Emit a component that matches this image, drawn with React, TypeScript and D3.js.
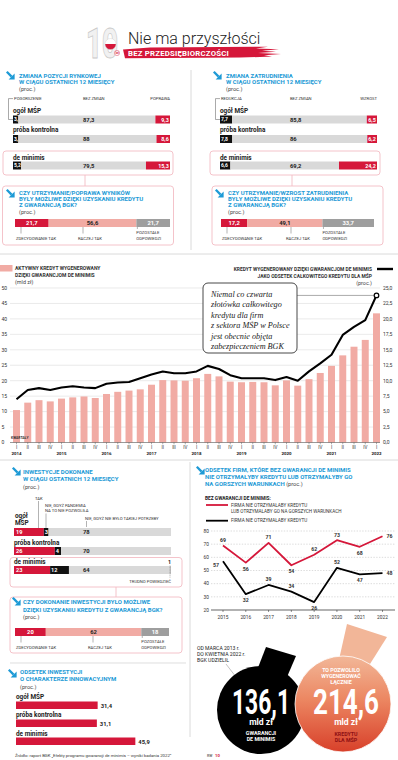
import * as d3 from "d3";

const FONT = "Roboto, 'Open Sans', 'DejaVu Sans', sans-serif";
const SERIF = "'Liberation Serif', 'DejaVu Serif', serif";
const BLUE = "#1d9ad6";
const RED = "#d5173a";
const PINK = "#f1aba4";
const GRAY = "#d9d9d9";
const DGRAY = "#9e9e9e";
const BOXPINK = "#f3bcc4";
const TXT = "#222";

// --- survey rows
const rowNames = ["ogół MŚP", "próba kontrolna", "de minimis"];
const marketWorse = [3.4, 3.4, 5.2];
const marketSame = [87.3, 88, 79.5];
const marketBetter = [9.3, 8.6, 15.3];
const jobsLess = [7.7, 7.8, 6.6];
const jobsSame = [85.8, 86, 69.2];
const jobsMore = [6.5, 6.2, 24.2];
const resultsAnswers = [21.7, 56.6, 21.7];
const jobsAnswers = [17.2, 49.1, 33.7];
const investAnswers = [20, 62, 18];

// --- quarterly credit
const quarterTicks = [
  "I", "II", "III", "IV", "I", "II", "III", "IV", "I", "II", "III", "IV",
  "I", "II", "III", "IV", "I", "II", "III", "IV", "I", "II", "III", "IV",
  "I", "II", "III", "IV", "I", "II", "III", "IV", "I",
];
const yearTicks = ["2014", "2015", "2016", "2017", "2018", "2019", "2020", "2021", "2022"];
const creditBn = [
  10.5, 12.9, 13.7, 13.3, 14.2, 14.6, 14.9, 14.4, 15.7, 16.4, 16.8, 17.2,
  18.7, 20.2, 20.1, 20.0, 20.8, 22.2, 21.4, 19.7, 19.5, 19.6, 19.5, 18.5,
  20.1, 18.4, 20.5, 22.5, 24.8, 28.2, 31.0, 33.2, 41.8,
];
const creditShare = [
  7.0, 8.5, 8.8, 8.5, 8.9, 9.1, 8.9, 8.8, 9.5, 9.7, 9.8, 10.4,
  11.0, 11.5, 11.2, 11.2, 11.5, 12.4, 11.9, 10.9, 10.4, 10.4, 10.4, 10.1,
  10.6, 10.0, 11.5, 12.8, 14.2, 17.4, 18.7, 19.8, 23.8,
];

// --- investments
const investYes = [19, 26, 23];
const investPandemic = [3, 4, 12];
const investNoNeed = [78, 70, 64];
const investHard = [0, 0, 1];
const innovShare = [31.4, 31.1, 45.9];

// --- yearly share of firms
const lineYears = ["2015", "2016", "2017", "2018", "2019", "2020", "2021", "2022"];
const worseOrNone = [69, 56, 71, 54, 62, 73, 68, 76];
const noCredit = [57, 32, 39, 34, 26, 52, 47, 48];

const guaranteesBn = 136.1;
const generatedBn = 214.6;

const pl = (v: number) => String(v).replace(".", ",");
const pl1 = (v: number) => v.toFixed(1).replace(".", ",");

function Arrow({ x, y }: { x: number; y: number }) {
  return (
    <g transform={`translate(${x},${y})`}>
      <line x1={0.8} y1={0.8} x2={5.6} y2={5.6} stroke={BLUE} strokeWidth={2.3} />
      <path d="M8.6,2.6 L8.6,8.6 L2.6,8.6 Z" fill={BLUE} />
    </g>
  );
}

function Title({ x, y, lines, step = 6.7, proc = true }: { x: number; y: number; lines: string[]; step?: number; proc?: boolean }) {
  return (
    <g>
      {lines.map((l, i) => (
        <text key={i} x={x} y={y + i * step} fontSize={6} fontWeight={700} fill={BLUE}>
          {l}
        </text>
      ))}
      {proc && (
        <text x={x} y={y + lines.length * step} fontSize={5.6} fill="#444">
          (proc.)
        </text>
      )}
    </g>
  );
}

function ChangePanel({ dx, title, heads, low, same, high, id }: {
  dx: number; title: string[]; heads: string[]; low: number[]; same: number[]; high: number[]; id: string;
}) {
  const x = d3.scaleLinear().domain([0, 100]).range([13 + dx, 170 + dx]);
  const rowY = [115.5, 135, 161.5];
  const nameY = [112.5, 131.5, 159.5];
  const h = 8;
  return (
    <g>
      <Arrow x={6 + dx} y={71} />
      <Title x={19 + dx} y={77.5} lines={title} />
      <path d={`M${x(0)},98.6 H${8.5 + dx} V119.5 H${x(0)}`} fill="none" stroke="#555" strokeWidth={0.5} />
      <text x={x(0) + 1} y={100.3} fontSize={4.2} fill="#333">{heads[0]}</text>
      <text x={83 + dx} y={100.3} fontSize={4.2} fill="#333">{heads[1]}</text>
      <text x={x(100)} y={100.3} fontSize={4.2} fill="#333" textAnchor="end">{heads[2]}</text>
      <rect x={3 + dx} y={151} width={170} height={24} rx={3} fill="none" stroke={BOXPINK} strokeWidth={0.9} />
      <line x1={85 + dx} x2={85 + dx} y1={175} y2={186} stroke={BOXPINK} strokeWidth={0.9} />
      {rowNames.map((name, i) => {
        const a = low[i], b = same[i];
        return (
          <g key={name}>
            <clipPath id={`${id}-c${i}`}>
              <rect x={x(0)} y={rowY[i]} width={x(a) - x(0)} height={h} />
            </clipPath>
            <text x={x(0)} y={nameY[i]} fontSize={6.4} fontWeight={700} fill={TXT}>{name}</text>
            <rect x={x(0)} y={rowY[i]} width={x(a) - x(0)} height={h} fill="#111" />
            <rect x={x(a)} y={rowY[i]} width={x(a + b) - x(a)} height={h} fill={GRAY} />
            <rect x={x(a + b)} y={rowY[i]} width={x(100) - x(a + b)} height={h} fill={RED} />
            <text x={x(0) + 1} y={rowY[i] + 5.9} fontSize={5} fontWeight={700} fill="#fff" clipPath={`url(#${id}-c${i})`}>
              {pl(a)}
            </text>
            <text x={83 + dx} y={rowY[i] + 6} fontSize={5.8} fontWeight={700} fill={TXT}>{pl(b)}</text>
            <text x={x(100) - 1.2} y={rowY[i] + 6} fontSize={5.4} fontWeight={700} fill="#fff" textAnchor="end">
              {pl(high[i])}
            </text>
          </g>
        );
      })}
    </g>
  );
}

function AnswerPanel({ box, arrow, titleX, titleY, title, values, barY, range, midX }: {
  box: number[]; arrow: number[]; titleX: number; titleY: number; title: string[]; values: number[];
  barY: number; range: number[]; midX: number;
}) {
  const x = d3.scaleLinear().domain([0, 100]).range(range);
  const stack = d3.cumsum(values);
  const starts = [0, stack[0], stack[1]];
  const fills = [RED, PINK, DGRAY];
  const inks = ["#fff", TXT, "#fff"];
  const h = 8;
  const b = barY + h;
  return (
    <g>
      <rect x={box[0]} y={box[1]} width={box[2]} height={box[3]} rx={3} fill="none" stroke={BOXPINK} strokeWidth={0.9} />
      <Arrow x={arrow[0]} y={arrow[1]} />
      <Title x={titleX} y={titleY} lines={title} step={title.length > 2 ? 6.2 : 7.7} />
      {values.map((v, i) => (
        <g key={i}>
          <rect x={x(starts[i])} y={barY} width={x(starts[i] + v) - x(starts[i])} height={h} fill={fills[i]} />
          <text x={(x(starts[i]) + x(starts[i] + v)) / 2} y={barY + 6} fontSize={5.8} fontWeight={700} fill={inks[i]} textAnchor="middle">
            {pl(v)}
          </text>
        </g>
      ))}
      <line x1={x(0) + 6} x2={x(0) + 6} y1={b} y2={b + 6.5} stroke="#666" strokeWidth={0.5} />
      <line x1={midX + 5} x2={midX + 5} y1={b} y2={b + 6.5} stroke="#666" strokeWidth={0.5} />
      <line x1={x(starts[2]) + 1} x2={x(starts[2]) + 1} y1={b} y2={b + 2} stroke="#666" strokeWidth={0.5} />
      <text x={x(0) + 1} y={b + 12.5} fontSize={4.2} fill="#333">ZDECYDOWANIE TAK</text>
      <text x={midX} y={b + 12.5} fontSize={4.2} fill="#333">RACZEJ TAK</text>
      <text x={x(starts[2])} y={b + 6.8} fontSize={4.2} fill="#333">POZOSTAŁE</text>
      <text x={x(starts[2])} y={b + 12.5} fontSize={4.2} fill="#333">ODPOWIEDZI</text>
    </g>
  );
}

function CreditChart() {
  const xb = d3.scaleBand<number>()
    .domain(creditBn.map((_, i) => i))
    .range([10.875, 382.125])
    .paddingInner(0.38)
    .paddingOuter(0.19);
  const yL = d3.scaleLinear().domain([0, 50]).range([442.5, 288]);
  const yR = d3.scaleLinear().domain([0, 25]).range([442.5, 288]);
  const ticks = yL.ticks(10);
  const cx = (i: number) => (xb(i) ?? 0) + xb.bandwidth() / 2;
  const line = d3.line<number>().x((_, i) => cx(i)).y((d) => yR(d));
  const last = creditShare.length - 1;
  let yearIdx = -1;
  return (
    <g>
      <rect x={0} y={265} width={12.5} height={6.5} fill={PINK} />
      <text x={15} y={270} fontSize={5} fontWeight={700} fill="#333">AKTYWNY KREDYT WYGENEROWANY</text>
      <text x={15} y={276.5} fontSize={5} fontWeight={700} fill="#333">DZIĘKI GWARANCJOM DE MINIMIS</text>
      <text x={15} y={284} fontSize={5.4} fill="#444">(mld zł)</text>
      <text x={372} y={271} fontSize={4.9} fontWeight={700} fill="#333" textAnchor="end">
        KREDYT WYGENEROWANY DZIĘKI GWARANCJOM DE MINIMIS
      </text>
      <text x={372} y={277.5} fontSize={4.9} fontWeight={700} fill="#333" textAnchor="end">
        JAKO ODSETEK CAŁKOWITEGO KREDYTU DLA MŚP
      </text>
      <text x={372} y={285} fontSize={5.4} fill="#444" textAnchor="end">(proc.)</text>
      <line x1={377} x2={393} y1={269} y2={269} stroke="#000" strokeWidth={2.4} />
      {ticks.map((t) => (
        <g key={t}>
          {t > 0 && <line x1={10} x2={380} y1={yL(t)} y2={yL(t)} stroke="#dcdcdc" strokeWidth={0.6} />}
          <text x={1.5} y={yL(t) + 1.8} fontSize={5} fill="#333">{t}</text>
          <text x={383} y={yL(t) + 1.8} fontSize={5} fill="#333">{pl1(t / 2)}</text>
        </g>
      ))}
      {creditBn.map((v, i) => (
        <rect key={i} x={xb(i)} y={yL(v)} width={xb.bandwidth()} height={yL(0) - yL(v)} fill={PINK} />
      ))}
      <line x1={10} x2={380} y1={yL(0)} y2={yL(0)} stroke="#555" strokeWidth={0.6} />
      <text x={11} y={438.5} fontSize={3.4} fontWeight={700} fill="#333">KWARTAŁY</text>
      {quarterTicks.map((q, i) => {
        if (q === "I") yearIdx += 1;
        return (
          <g key={i}>
            <line x1={cx(i)} x2={cx(i)} y1={yL(0)} y2={yL(0) + 1.8} stroke="#555" strokeWidth={0.5} />
            <text x={cx(i)} y={448.5} fontSize={4.6} fill="#333" textAnchor="middle">{q}</text>
            {q === "I" && (
              <text x={cx(i)} y={455} fontSize={4.4} fontWeight={700} fill="#222" textAnchor="middle">
                {yearTicks[yearIdx]}
              </text>
            )}
          </g>
        );
      })}
      <line x1={297} x2={cx(last)} y1={yR(creditShare[last])} y2={yR(creditShare[last])} stroke="#555" strokeWidth={0.5} />
      <path d={line(creditShare) ?? ""} fill="none" stroke="#000" strokeWidth={2.1} strokeLinejoin="round" />
      <circle cx={cx(last)} cy={yR(creditShare[last])} r={2.3} fill="#fff" stroke="#000" strokeWidth={1.2} />
      <rect x={203} y={283} width={94} height={70} rx={5} fill="#fff" stroke="#333" strokeWidth={0.9} />
      {[
        "Niemal co czwarta",
        "złotówka całkowitego",
        "kredytu dla firm",
        "z sektora MŚP w Polsce",
        "jest obecnie objęta",
        "zabezpieczeniem BGK",
      ].map((t, i) => (
        <text key={i} x={211} y={297 + i * 10.4} fontSize={8.2} fontStyle="italic" fill="#222" fontFamily={SERIF}>
          {t}
        </text>
      ))}
    </g>
  );
}

function InvestPanel() {
  const x = d3.scaleLinear().domain([0, 100]).range([14, 171]);
  const rowY = [528, 547, 566];
  const h = 8;
  return (
    <g>
      <Arrow x={12} y={467} />
      <Title x={23} y={474} lines={["INWESTYCJE DOKONANE", "W CIĄGU OSTATNICH 12 MIESIĘCY"]} step={7.4} />
      <text x={35} y={499.5} fontSize={4.2} fill="#333">TAK</text>
      <line x1={38.5} x2={38.5} y1={501} y2={rowY[0]} stroke="#666" strokeWidth={0.5} />
      <text x={45} y={506.5} fontSize={4.2} fill="#333">NIE, GDYŻ PANDEMIA</text>
      <text x={45} y={512} fontSize={4.2} fill="#333">NA TO NIE POZWOLIŁA</text>
      <line x1={46} x2={46} y1={513.5} y2={rowY[0]} stroke="#666" strokeWidth={0.5} />
      <text x={85} y={519.5} fontSize={4.2} fill="#333">NIE, GDYŻ NIE BYŁO TAKIEJ POTRZEBY</text>
      <line x1={86.5} x2={86.5} y1={521} y2={rowY[0] - 1} stroke="#666" strokeWidth={0.5} />
      <text x={15} y={518} fontSize={6.4} fontWeight={700} fill={TXT}>ogół</text>
      <text x={15} y={525} fontSize={6.4} fontWeight={700} fill={TXT}>MŚP</text>
      <text x={14} y={544.5} fontSize={6.4} fontWeight={700} fill={TXT}>próba kontrolna</text>
      <rect x={10} y={557.5} width={172} height={29.5} rx={3} fill="none" stroke={BOXPINK} strokeWidth={0.9} />
      <line x1={116} x2={116} y1={587} y2={597} stroke={BOXPINK} strokeWidth={0.9} />
      <text x={14} y={564} fontSize={6.4} fontWeight={700} fill={TXT}>de minimis</text>
      {rowNames.map((name, i) => {
        const a = investYes[i], b = investPandemic[i], c = investNoNeed[i], d = investHard[i];
        return (
          <g key={name}>
            <rect x={x(0)} y={rowY[i]} width={x(a) - x(0)} height={h} fill={RED} />
            <rect x={x(a)} y={rowY[i]} width={x(a + b) - x(a)} height={h} fill="#111" />
            <rect x={x(a + b)} y={rowY[i]} width={x(a + b + c) - x(a + b)} height={h} fill={GRAY} />
            {d > 0 && (
              <rect x={x(a + b + c)} y={rowY[i]} width={x(100) - x(a + b + c)} height={h} fill="#c4c4c4" />
            )}
            <text x={x(0) + 2} y={rowY[i] + 6} fontSize={5.6} fontWeight={700} fill="#fff">{a}</text>
            <text x={x(a) + 1} y={rowY[i] + 6} fontSize={5.6} fontWeight={700} fill="#fff">{b}</text>
            <text x={83} y={rowY[i] + 6} fontSize={5.8} fontWeight={700} fill={TXT}>{c}</text>
            {d > 0 && (
              <g>
                <text x={x(100)} y={564} fontSize={5.4} fontWeight={700} fill={TXT} textAnchor="end">{d}</text>
                <line x1={x(100) - 1} x2={x(100) - 1} y1={rowY[i] - 0.5} y2={rowY[i] + h + 4} stroke="#777" strokeWidth={0.5} strokeDasharray="1,0.6" />
              </g>
            )}
          </g>
        );
      })}
      <text x={171} y={583} fontSize={4.2} fill="#333" textAnchor="end">TRUDNO POWIEDZIEĆ</text>
    </g>
  );
}

function InnovPanel() {
  const x = d3.scaleLinear().domain([0, 100]).range([16, 276]);
  const rowY = [701.5, 719.5, 737.5];
  const nameY = [699, 717, 735.5];
  return (
    <g>
      <line x1={10} x2={186} y1={663} y2={663} stroke="#d0d0d0" strokeWidth={0.7} />
      <Arrow x={8} y={669} />
      <Title x={20} y={674} lines={["ODSETEK INWESTYCJI", "O CHARAKTERZE INNOWACYJNYM"]} step={7.3} />
      {rowNames.map((name, i) => (
        <g key={name}>
          <text x={16} y={nameY[i]} fontSize={6.4} fontWeight={700} fill={TXT}>{name}</text>
          <rect x={x(0)} y={rowY[i]} width={x(innovShare[i]) - x(0)} height={7.5} fill={RED} />
          <text x={x(innovShare[i]) + 3} y={rowY[i] + 6.8} fontSize={5.8} fontWeight={700} fill={TXT}>
            {pl(innovShare[i])}
          </text>
        </g>
      ))}
      <text x={15} y={757} fontSize={4.3} fill="#333">
        Źródło: raport BGK „Efekty programu gwarancji de minimis – wyniki badania 2022”
      </text>
    </g>
  );
}

function ShareChart() {
  const x = d3.scalePoint<string>().domain(lineYears).range([223, 382.5]);
  const y = d3.scaleLinear().domain([20, 80]).range([610, 531]);
  const line = d3.line<number>().x((_, i) => x(lineYears[i]) ?? 0).y((d) => y(d));
  const series = [
    { vals: worseOrNone, color: RED, first: "above" },
    { vals: noCredit, color: "#000", first: "left" },
  ];
  return (
    <g>
      <Arrow x={196} y={466} />
      <text x={205} y={472} fontSize={6} fontWeight={700} fill={BLUE}>ODSETEK FIRM, KTÓRE BEZ GWARANCJI DE MINIMIS</text>
      <text x={205} y={478.8} fontSize={6} fontWeight={700} fill={BLUE}>NIE OTRZYMAŁYBY KREDYTU LUB OTRZYMAŁYBY GO</text>
      <text x={205} y={485.6} fontSize={6} fontWeight={700} fill={BLUE}>
        NA GORSZYCH WARUNKACH <tspan fontWeight={400} fill="#444" fontSize={5.6}> (proc.)</tspan>
      </text>
      <text x={205} y={500} fontSize={4.8} fontWeight={700} fill={TXT}>BEZ GWARANCJI DE MINIMIS:</text>
      <line x1={206} x2={228} y1={505} y2={505} stroke={RED} strokeWidth={1.8} />
      <text x={231} y={506.6} fontSize={4.6} fill="#333">FIRMA NIE OTRZYMAŁABY KREDYTU</text>
      <text x={231} y={513.3} fontSize={4.6} fill="#333">LUB OTRZYMAŁABY GO NA GORSZYCH WARUNKACH</text>
      <line x1={206} x2={228} y1={520.7} y2={520.7} stroke="#000" strokeWidth={1.8} />
      <text x={231} y={522.3} fontSize={4.6} fill="#333">FIRMA NIE OTRZYMAŁABY KREDYTU</text>
      {y.ticks(6).map((t) => (
        <g key={t}>
          {t > 20 && (
            <line x1={211} x2={395} y1={y(t)} y2={y(t)} stroke="#b8b8b8" strokeWidth={0.5} strokeDasharray="1.4,1.4" />
          )}
          <text x={209} y={y(t) + 1.7} fontSize={4.8} fill="#333" textAnchor="end">{t}</text>
        </g>
      ))}
      <line x1={211} x2={395} y1={y(20)} y2={y(20)} stroke="#222" strokeWidth={0.7} />
      {lineYears.map((yr) => (
        <g key={yr}>
          <line x1={x(yr)} x2={x(yr)} y1={y(20)} y2={y(20) + 2} stroke="#222" strokeWidth={0.5} />
          <text x={x(yr)} y={618.5} fontSize={4.8} fill="#333" textAnchor="middle">{yr}</text>
        </g>
      ))}
      {series.map((s, si) => (
        <g key={si}>
          <path d={line(s.vals) ?? ""} fill="none" stroke={s.color} strokeWidth={1.8} strokeLinejoin="round" />
          {s.vals.map((v, i) => {
            const px = x(lineYears[i]) ?? 0;
            const py = y(v);
            const prev = s.vals[i - 1];
            const next = s.vals[i + 1];
            let lx = px, ly = py - 3.5, anchor = "middle";
            const isMin = prev !== undefined && next !== undefined && v < prev && v < next;
            if (isMin) ly = py + 8;
            if (i === 0 && s.first === "left") { lx = px - 4; ly = py + 6; anchor = "end"; }
            if (i === s.vals.length - 1) { lx = px + 4; ly = py + 2; anchor = "start"; }
            return (
              <text key={i} x={lx} y={ly} fontSize={5.2} fontWeight={700} fill="#333" textAnchor={anchor}>
                {v}
              </text>
            );
          })}
        </g>
      ))}
    </g>
  );
}

function Totals() {
  return (
    <g>
      <defs>
        <linearGradient id="orangeGrad" x1="0" y1="0" x2="0" y2="1">
          <stop offset="0" stopColor="#f2b798" />
          <stop offset="0.45" stopColor="#ec8762" />
          <stop offset="1" stopColor="#d8402a" />
        </linearGradient>
      </defs>
      <text x={197} y={649.5} fontSize={5.1} fill="#222">OD MARCA 2013 r.</text>
      <text x={197} y={655.6} fontSize={5.1} fill="#222">DO KWIETNIA 2022 r.</text>
      <text x={197} y={661.7} fontSize={5.1} fill="#222">BGK UDZIELIŁ</text>
      <line x1={226} y1={664} x2={236} y2={677} stroke="#888" strokeWidth={0.5} />
      <path d="M266,647 L296,656 L284,684 L254,678 Z" fill="#000" />
      <circle cx={261} cy={710} r={44} fill="#000" />
      <path d="M347,624 L387,637 L370,664 L338,664 Z" fill="#f2b698" />
      <circle cx={343} cy={704} r={48} fill="url(#orangeGrad)" stroke="#fff" strokeWidth={0.8} />
      <text x={261} y={713.5} fontSize={35} fontWeight={700} fill="#fff" textAnchor="middle" textLength={58} lengthAdjust="spacingAndGlyphs">
        {pl(guaranteesBn)}
      </text>
      <text x={261} y={725} fontSize={8.6} fontWeight={700} fill="#fff" textAnchor="middle">mld zł</text>
      <text x={261} y={734.5} fontSize={5.3} fontWeight={700} fill="#fff" textAnchor="middle">GWARANCJI</text>
      <text x={261} y={740.5} fontSize={5.3} fontWeight={700} fill="#fff" textAnchor="middle">DE MINIMIS</text>
      <text x={341} y={672} fontSize={5.3} fontWeight={700} fill="#fff" textAnchor="middle">TO POZWOLIŁO</text>
      <text x={341} y={678} fontSize={5.3} fontWeight={700} fill="#fff" textAnchor="middle">WYGENEROWAĆ</text>
      <text x={341} y={684} fontSize={5.3} fontWeight={700} fill="#fff" textAnchor="middle">ŁĄCZNIE</text>
      <text x={346} y={713.5} fontSize={35} fontWeight={700} fill="#fff" textAnchor="middle" textLength={66} lengthAdjust="spacingAndGlyphs">
        {pl(generatedBn)}
      </text>
      <text x={346} y={725} fontSize={8.6} fontWeight={700} fill="#fff" textAnchor="middle">mld zł</text>
      <text x={346} y={735.5} fontSize={5.3} fontWeight={700} fill="#8e0f14" textAnchor="middle">KREDYTU</text>
      <text x={346} y={741.5} fontSize={5.3} fontWeight={700} fill="#8e0f14" textAnchor="middle">DLA MŚP</text>
      <text x={207} y={756.5} fontSize={3.6} fontWeight={700} fill="#777">RW</text>
      <text x={215} y={756.5} fontSize={4.2} fontWeight={700} fill={RED}>10</text>
    </g>
  );
}

function Header() {
  return (
    <g>
      <text x={86} y={58} fontSize={42} fontWeight={900} fill="#f1f1f1" stroke="#c9c9c9" strokeWidth={0.8}
        textLength={32} lengthAdjust="spacingAndGlyphs">
        10
      </text>
      <path d="M105,44 A5.5,5.5 0 0 1 116,44 Z" fill="#fff" />
      <path d="M105,44 A5.5,5.5 0 0 0 116,44 Z" fill={RED} />
      <circle cx={110.5} cy={44} r={5.5} fill="none" stroke="#ccc" strokeWidth={0.4} />
      <circle cx={117} cy={53} r={2.6} fill="#fff" stroke={RED} strokeWidth={0.4} />
      <text x={117} y={54.1} fontSize={2.8} fontWeight={700} fill={RED} textAnchor="middle">lat</text>
      <text x={128} y={43.5} fontSize={16} fontWeight={300} fill={TXT}>Nie ma przyszłości</text>
      <path
        d="M123,49.5 L150,47.4 L268,46.8 L256,48.6 L279,49.2 L262,50.8 L276,51.8 L258,53 L281,54 L264,55.3 L272,56.6 L240,57.6 L125,58.2 Z"
        fill={RED}
      />
      <text x={128} y={55.8} fontSize={7.8} fontWeight={700} fill="#fff" letterSpacing={0.2}>BEZ PRZEDSIĘBIORCZOŚCI</text>
    </g>
  );
}

export default function App() {
  return (
    <svg width={398} height={760} viewBox="0 0 398 760" fontFamily={FONT}
      style={{ position: "absolute", left: 0, top: 0, background: "#fff" }}>
      <rect width={398} height={760} fill="#fff" />
      <Header />
      <line x1={191} x2={191} y1={70} y2={250} stroke="#d0d0d0" strokeWidth={0.8} />
      <ChangePanel id="m" dx={0} title={["ZMIANA POZYCJI RYNKOWEJ", "W CIĄGU OSTATNICH 12 MIESIĘCY"]}
        heads={["POGORSZENIE", "BEZ ZMIAN", "POPRAWA"]} low={marketWorse} same={marketSame} high={marketBetter} />
      <ChangePanel id="j" dx={207} title={["ZMIANA ZATRUDNIENIA", "W CIĄGU OSTATNICH 12 MIESIĘCY"]}
        heads={["REDUKCJA", "BEZ ZMIAN", "WZROST"]} low={jobsLess} same={jobsSame} high={jobsMore} />
      <AnswerPanel box={[2.5, 186, 171, 59]} arrow={[6, 189]} titleX={19} titleY={195}
        title={["CZY UTRZYMANIE/POPRAWA WYNIKÓW", "BYŁY MOŻLIWE DZIĘKI UZYSKANIU KREDYTU", "Z GWARANCJĄ BGK?"]}
        values={resultsAnswers} barY={219} range={[15, 170]} midX={78} />
      <AnswerPanel box={[212, 186, 171, 59]} arrow={[215, 189]} titleX={228} titleY={195}
        title={["CZY UTRZYMANIE/WZROST ZATRUDNIENIA", "BYŁY MOŻLIWE DZIĘKI UZYSKANIU KREDYTU", "Z GWARANCJĄ BGK?"]}
        values={jobsAnswers} barY={219} range={[221, 374]} midX={286} />
      <line x1={0} x2={398} y1={254} y2={254} stroke="#d0d0d0" strokeWidth={0.8} />
      <CreditChart />
      <line x1={0} x2={398} y1={460} y2={460} stroke="#d0d0d0" strokeWidth={0.8} />
      <line x1={190} x2={190} y1={462} y2={737} stroke="#d0d0d0" strokeWidth={0.8} />
      <InvestPanel />
      <AnswerPanel box={[10, 597, 172, 56]} arrow={[12, 597]} titleX={23} titleY={604}
        title={["CZY DOKONANIE INWESTYCJI BYŁO MOŻLIWE", "DZIĘKI UZYSKANIU KREDYTU Z GWARANCJĄ BGK?"]}
        values={investAnswers} barY={628} range={[15, 169]} midX={88} />
      <InnovPanel />
      <ShareChart />
      <Totals />
    </svg>
  );
}
